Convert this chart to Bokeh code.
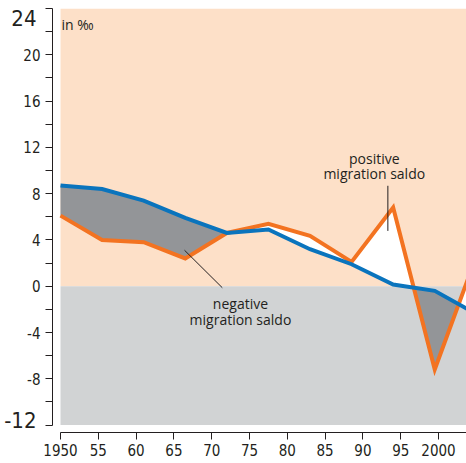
import numpy as np
from bokeh.plotting import figure
from bokeh.models import FixedTicker, Label, ColumnDataSource, Range1d, LinearAxis
from bokeh.core.properties import value
from bokeh.embed import file_html
from bokeh.resources import INLINE

# ---- data (in per mille) ----
years = [1950, 1955.5, 1961, 1966.5, 1972, 1977.5, 1983, 1988.5, 1994, 1999.5, 2005]
series_blue = [8.7, 8.4, 7.4, 5.9, 4.6, 4.9, 3.2, 1.9, 0.15, -0.4, -2.4]
series_orange = [6.1, 4.0, 3.8, 2.4, 4.6, 5.4, 4.35, 2.1, 6.8, -7.2, 2.6]

y_ticks = list(range(-12, 25, 2))
y_labelled = [20, 16, 12, 8, 4, 0, -4, -8]
x_ticks = [1950, 1955, 1960, 1965, 1970, 1975, 1980, 1985, 1990, 1995, 2000, 2005]
x_tick_labels = ["1950", "55", "60", "65", "70", "75", "80", "85", "90", "95", "2000", "05"]

unit_label = "in ‰"
pos_text = ["positive", "migration saldo"]
neg_text = ["negative", "migration saldo"]

# ---- colours / fonts ----
PINK = "#fde0c8"
LIGHT_GREY = "#d1d3d4"
DARK_GREY = "#939598"
BLUE = "#0a74bd"
ORANGE = "#f37321"
INK = "#231f20"
NARROW = "Liberation Sans Narrow, DejaVu Sans Condensed, sans-serif"
SANS = "Open Sans"

y_top, y_bot = max(y_ticks), min(y_ticks)

p = figure(width=466, height=463, output_backend="svg", toolbar_location=None,
           x_range=Range1d(1948.94, 2003.7), y_range=Range1d(-12.64, 24.0),
           min_border_left=52, min_border_right=0, min_border_top=8, min_border_bottom=31)
p.outline_line_color = None
p.xgrid.visible = False
p.ygrid.visible = False
p.background_fill_color = "white"
p.border_fill_color = "white"

# backgrounds
p.quad(left=years[0], right=years[-1] + 10, bottom=0, top=y_top, fill_color=PINK, line_color=None)
p.quad(left=years[0], right=years[-1] + 10, bottom=y_bot, top=0, fill_color=LIGHT_GREY, line_color=None)

# fills between the two curves (with exact crossing points inserted)
xs = np.array(years, float)
b = np.array(series_blue, float)
o = np.array(series_orange, float)
xall = list(xs)
d = b - o
for i in range(len(xs) - 1):
    if d[i] * d[i + 1] < 0:
        t = d[i] / (d[i] - d[i + 1])
        xall.append(xs[i] + t * (xs[i + 1] - xs[i]))
xall = np.array(sorted(xall))
bi = np.interp(xall, xs, b)
oi = np.interp(xall, xs, o)
p.varea(x=xall, y1=oi, y2=np.maximum(bi, oi), fill_color=DARK_GREY)
p.varea(x=xall, y1=bi, y2=np.maximum(bi, oi), fill_color="white")

# lines
p.line(years, series_orange, line_color=ORANGE, line_width=4, line_join="miter")
p.line(years, series_blue, line_color=BLUE, line_width=4, line_join="miter")

# leader lines
p.segment(x0=[1993.3, 1966.4], y0=[8.68, 3.11], x1=[1993.3, 1971.4], y1=[4.78, -0.13],
          line_color=INK, line_width=1)

# annotation texts
src = ColumnDataSource(dict(x=[1991.5, 1991.5, 1973.8, 1973.8], y=[11.0, 9.7, -1.45, -2.84],
                            t=pos_text + neg_text))
p.text(x="x", y="y", text="t", source=src, text_font=value(SANS), text_font_size="14px",
       text_color=INK, text_align="center", text_baseline="alphabetic")

# axes
ya = p.yaxis[0]
ya.bounds = (y_bot, y_top)
ya.ticker = FixedTicker(ticks=y_ticks)
ya.major_label_overrides = {t: (str(t) if t in y_labelled else "") for t in y_ticks}
ya.major_tick_in = 0
ya.major_tick_out = 7
ya.minor_tick_line_color = None
ya.axis_line_color = INK
ya.major_tick_line_color = INK
ya.major_label_text_font = NARROW
ya.major_label_text_font_size = "15px"
ya.major_label_text_color = INK
ya.major_label_standoff = 5

# second left axis carrying only the large end labels (24 and -12)
end_pos = [y_top - 0.8, y_bot + 0.4]
ya2 = LinearAxis(ticker=FixedTicker(ticks=end_pos),
                 major_label_overrides={end_pos[0]: str(y_top), end_pos[1]: str(y_bot)},
                 axis_line_color=None, major_tick_line_color=None, minor_tick_line_color=None,
                 major_tick_in=0, major_tick_out=0, major_label_standoff=-16,
                 major_label_text_font=NARROW, major_label_text_font_size="22px",
                 major_label_text_color=INK)
p.add_layout(ya2, "left")

xa = p.xaxis[0]
xa.bounds = (years[0], years[-1] + 10)
xa.ticker = FixedTicker(ticks=x_ticks)
xa.major_label_overrides = dict(zip(x_ticks, x_tick_labels))
xa.major_tick_in = 0
xa.major_tick_out = 7
xa.minor_tick_line_color = None
xa.axis_line_color = INK
xa.major_tick_line_color = INK
xa.major_label_text_font = NARROW
xa.major_label_text_font_size = "15px"
xa.major_label_text_color = INK
xa.major_label_standoff = 4

# unit label
p.add_layout(Label(x=years[0], y=y_top, x_offset=1, y_offset=-6, text=unit_label,
                   text_font=SANS, text_font_size="14px", text_color=INK,
                   text_align="left", text_baseline="top"))

open("out.html", "w").write(file_html(p, INLINE))
